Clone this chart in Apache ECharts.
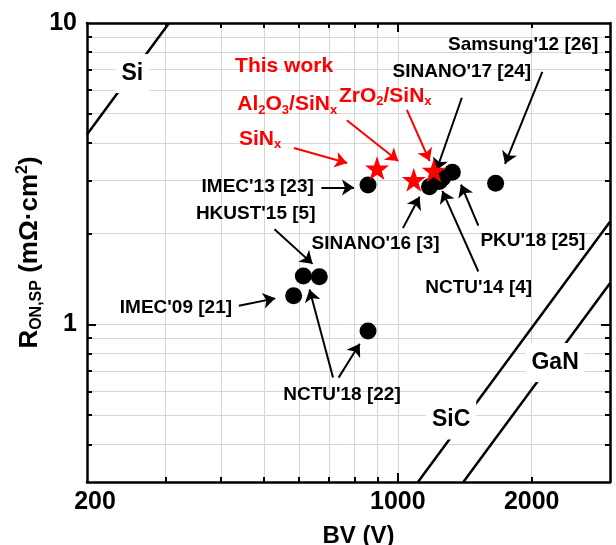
<!DOCTYPE html>
<html><head><meta charset="utf-8">
<script src="https://cdn.jsdelivr.net/npm/echarts@6/dist/echarts.min.js"></script>
<style>html,body{margin:0;padding:0;background:#fff}#c{width:616px;height:545px}</style>
</head><body><div id="c"></div>
<script>
// ---------- data ----------
const deviceNames = ["Samsung'12 [26]", "SINANO'17 [24]", "IMEC'13 [23]", "HKUST'15 [5]", "SINANO'16 [3]", "PKU'18 [25]", "NCTU'14 [4]", "IMEC'09 [21]", "NCTU'18 [22]", "NCTU'18 [22]"];
const deviceBV  = [1659, 1262, 857, 666, 1178, 1326, 1240, 583, 613, 857];
const deviceRon = [2.94, 3.06, 2.90, 1.44, 2.86, 3.20, 2.98, 1.245, 1.447, 0.951];

const workNames = ["SiNx", "Al2O3/SiNx", "ZrO2/SiNx"];
const workBV  = [898, 1086, 1205];
const workRon = [3.30, 3.02, 3.24];

const limitNames = ["Si", "SiC", "GaN"];
const limitBV  = [[200, 306], [1110, 3000], [1404, 3000]];
const limitRon = [[4.27, 10], [0.3, 2.19], [0.3, 1.37]];

const xTickLabels = [200, 1000, 2000];
const yTickLabels = [1, 10];
const xMajorTicks = [1000];
const xMinorTicks = [300, 400, 500, 600, 700, 800, 900, 2000];
const yMajorTicks = [1];
const yMinorTicks = [0.4, 0.5, 0.6, 0.7, 0.8, 0.9, 2, 3, 4, 5, 6, 7, 8, 9];

// ---------- annotations (data coordinates) ----------
const blackNotes = [
  ["Samsung'12 [26]", 1913, 8.46],
  ["SINANO'17 [24]", 1393, 6.89],
  ["IMEC'13 [23]", 484, 2.87],
  ["HKUST'15 [5]", 479, 2.32],
  ["SINANO'16 [3]", 891, 1.853],
  ["PKU'18 [25]", 2012, 1.901],
  ["NCTU'14 [4]", 1520, 1.318],
  ["IMEC'09 [21]", 317, 1.133],
  ["NCTU'18 [22]", 749, 0.584]
];
const redNotes = [
  ["{r|This work}", 555, 7.21],
  ["{r|Al}{rs|2}{r|O}{rs|3}{r|/SiN}{rs|x}", 564, 5.36],
  ["{r|ZrO}{rs|2}{r|/SiN}{rs|x}", 937, 5.73],
  ["{r|SiN}{rs|x}", 490, 4.11]
];
const limitNotes = [
  ["Si", 253, 6.80],
  ["SiC", 1318, 0.482],
  ["GaN", 2258, 0.747]
];
const blackArrows = [
  [[2113, 6.89], [1742, 3.41]],
  [[1393, 5.65], [1221, 3.24]],
  [[673, 2.848], [797, 2.848]],
  [[528, 2.07], [643, 1.588]],
  [[1027, 2.087], [1119, 2.651]],
  [[1517, 2.126], [1387, 2.91]],
  [[1517, 1.498], [1259, 2.773]],
  [[439, 1.154], [530, 1.22]],
  [[715, 0.666], [633, 1.305]],
  [[736, 0.666], [821, 0.862]]
];
const redArrows = [
  [[584, 3.846], [769, 3.43]],
  [[768, 4.755], [1002, 3.485]],
  [[1048, 5.15], [1179, 3.485]]
];

// ---------- chart ----------
const F = '"Liberation Sans", Arial, Helvetica, sans-serif';
const X_MIN = 200, X_MAX = 3000, Y_MIN = 0.3, Y_MAX = 10;
const GRID_COLOR = '#d6d6d6';
const lineBlack = {color: '#000', width: 2.5};
const tickStyle = {color: '#000', width: 2};

function axis(min, max, pos, extra) {
  return Object.assign({
    type: 'log', logBase: 10, min: min, max: max, position: pos,
    axisLine: {show: false, onZero: false},
    axisLabel: {show: false},
    axisTick: {show: false},
    splitLine: {show: false},
    minorTick: {show: false}, minorSplitLine: {show: false}
  }, extra);
}
function ticks(values, len) {
  return {show: true, customValues: values, inside: true, length: len, lineStyle: tickStyle};
}
const split = {show: true, lineStyle: {color: GRID_COLOR, width: 1}};
const labelFont = {fontSize: 25, fontWeight: 'bold', color: '#000', fontFamily: F};

const xAxes = [
  axis(X_MIN, X_MAX, 'bottom', {
    axisLine: {show: true, onZero: false, lineStyle: lineBlack},
    axisLabel: Object.assign({show: true, customValues: xTickLabels, margin: 8,
      formatter: v => (Math.round(v) === X_MIN ? '{f|' + Math.round(v) + '}' : String(Math.round(v))),
      rich: {f: {fontSize: 25, fontWeight: 'bold', color: '#000', fontFamily: F, padding: [0, 0, 0, 16]}}
    }, labelFont),
    axisTick: ticks(xMajorTicks, 9),
    splitLine: split,
    name: 'BV (V)', nameLocation: 'middle', nameGap: 42, nameMoveOverlap: false,
    nameTextStyle: {fontSize: 24, fontWeight: 'bold', color: '#000', fontFamily: F, padding: [0, 0, 0, 20]}
  }),
  axis(X_MIN, X_MAX, 'bottom', {axisTick: ticks(xMinorTicks, 5), splitLine: split}),
  axis(X_MIN, X_MAX, 'top', {axisLine: {show: true, onZero: false, lineStyle: lineBlack}, axisTick: ticks(xMajorTicks, 9)}),
  axis(X_MIN, X_MAX, 'top', {axisTick: ticks(xMinorTicks, 5)})
];
const yAxes = [
  axis(Y_MIN, Y_MAX, 'left', {
    axisLine: {show: true, onZero: false, lineStyle: lineBlack},
    axisLabel: Object.assign({show: true, customValues: yTickLabels, margin: 10,
      formatter: v => String(Math.round(v))}, labelFont),
    axisTick: ticks(yMajorTicks, 9),
    splitLine: split,
    name: '{m|R}{s|ON,SP}{m| (mΩ·cm}{p|2}{m|)}', nameLocation: 'middle', nameGap: 42,
    nameMoveOverlap: false,
    nameRotate: 90,
    nameTextStyle: {fontFamily: F, fontWeight: 'bold', color: '#000',
      rich: {
        m: {fontSize: 26, fontWeight: 'bold', fontFamily: F, color: '#000', lineHeight: 30},
        s: {fontSize: 16, fontWeight: 'bold', fontFamily: F, color: '#000', lineHeight: 16, verticalAlign: 'bottom'},
        p: {fontSize: 16, fontWeight: 'bold', fontFamily: F, color: '#000', lineHeight: 14, verticalAlign: 'top'}
      }}
  }),
  axis(Y_MIN, Y_MAX, 'left', {axisTick: ticks(yMinorTicks, 5), splitLine: split}),
  axis(Y_MIN, Y_MAX, 'right', {axisLine: {show: true, onZero: false, lineStyle: lineBlack}, axisTick: ticks(yMajorTicks, 9)}),
  axis(Y_MIN, Y_MAX, 'right', {axisTick: ticks(yMinorTicks, 5)})
];

const series = [];
// limit lines
limitNames.forEach((n, i) => {
  series.push({
    type: 'line', name: n, z: 2, silent: true, showSymbol: false, symbol: 'none',
    data: limitBV[i].map((x, j) => [x, limitRon[i][j]]),
    lineStyle: {color: '#000', width: 2.5}
  });
});
// arrows
function arrowLines(list) {
  return list.map(a => [{coord: a[0]}, {coord: a[1]}]);
}
series.push({
  type: 'scatter', name: 'arrows', z: 3, silent: true, data: [],
  markLine: {silent: true, symbol: ['none', 'arrow'], symbolSize: 12, label: {show: false},
    lineStyle: {color: '#000', width: 2, type: 'solid', opacity: 1}, emphasis: {disabled: true},
    data: arrowLines(blackArrows)}
});
series.push({
  type: 'scatter', name: 'redArrows', z: 3, silent: true, data: [],
  markLine: {silent: true, symbol: ['none', 'arrow'], symbolSize: 12, label: {show: false},
    lineStyle: {color: '#ff0000', width: 2, type: 'solid', opacity: 1}, emphasis: {disabled: true},
    data: arrowLines(redArrows)}
});
// devices
series.push({
  type: 'scatter', name: 'devices', z: 4, symbol: 'circle', symbolSize: 17,
  itemStyle: {color: '#000', opacity: 1},
  data: deviceBV.map((x, i) => ({name: deviceNames[i], value: [x, deviceRon[i]]}))
});
// this work
series.push({
  type: 'scatter', name: 'This work', z: 5, symbol: 'path://M50,0 L61.8,35.1 L97.6,35.1 L68.8,56.7 L79.4,90.5 L50,69.8 L20.6,90.5 L31.2,56.7 L2.4,35.1 L38.2,35.1 Z',
  symbolSize: 24, itemStyle: {color: '#ff0000', opacity: 1},
  data: workBV.map((x, i) => ({name: workNames[i], value: [x, workRon[i]]}))
});
// text annotations
const rich = {
  b: {fontSize: 19, fontWeight: 'bold', color: '#000', fontFamily: F},
  r: {fontSize: 21, fontWeight: 'bold', color: '#ff0000', fontFamily: F, lineHeight: 24},
  rs: {fontSize: 13, fontWeight: 'bold', color: '#ff0000', fontFamily: F, lineHeight: 12, verticalAlign: 'bottom'},
  l: {fontSize: 23, fontWeight: 'bold', color: '#000', fontFamily: F}
};
const noteData = [];
blackNotes.forEach(n => noteData.push({value: [n[1], n[2]], label: {formatter: '{b|' + n[0] + '}'}}));
redNotes.forEach(n => noteData.push({value: [n[1], n[2]], label: {formatter: n[0]}}));
limitNotes.forEach(n => noteData.push({value: [n[1], n[2]],
  label: {formatter: '{l|' + n[0] + '}', backgroundColor: '#fff', padding: [8, 6, 8, 6]}}));
series.push({
  type: 'scatter', name: 'notes', z: 6, silent: true, symbolSize: 1,
  itemStyle: {color: 'rgba(0,0,0,0)', opacity: 1},
  label: {show: true, position: 'inside', rich: rich, fontFamily: F, opacity: 1},
  data: noteData
});

const chart = echarts.init(document.getElementById('c'), null, {renderer: 'canvas'});
chart.setOption({
  animation: false,
  backgroundColor: '#fff',
  grid: {left: 87, right: 6, top: 23, bottom: 63, outerBoundsMode: 'none', containLabel: false},
  xAxis: xAxes,
  yAxis: yAxes,
  series: series
});
</script></body></html>
